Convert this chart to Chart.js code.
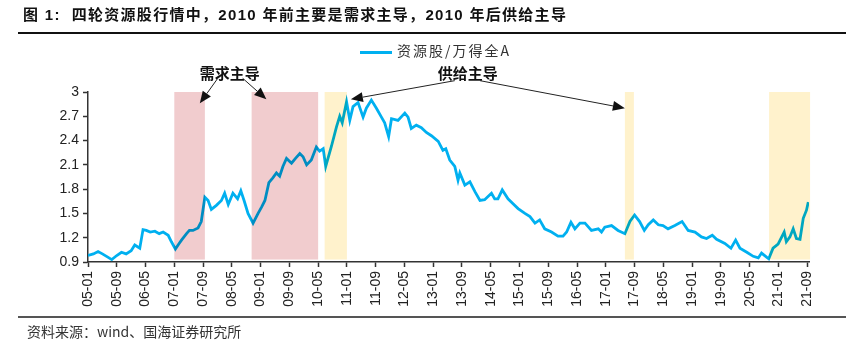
<!DOCTYPE html>
<html>
<head>
<meta charset="utf-8">
<script src="https://cdn.jsdelivr.net/npm/chart.js@4.4.1/dist/chart.umd.min.js"></script>
<style>
	body { margin: 0; background: #fff; }
	#wrap { position: relative; width: 850px; height: 348px; overflow: hidden; }
	#wrap canvas { position: absolute; left: 0; top: 0; }
	.title { position: absolute; left: 23px; top: 3px; font: bold 15px 'Liberation Sans', 'Noto Sans CJK SC', sans-serif; letter-spacing: 1.3px; color: #111; white-space: nowrap; }
	.ruleTop { position: absolute; left: 18px; width: 828px; top: 32px; height: 2px; background: #111; }
	.ruleBottom { position: absolute; left: 18px; width: 828px; top: 316px; height: 2px; background: #555; }
	.source { position: absolute; left: 27px; top: 321px; font: 14px 'Noto Sans CJK SC', sans-serif; color: #333; white-space: nowrap; }
	.legend { position: absolute; left: 360px; top: 40px; font: 14px 'Noto Sans CJK SC', sans-serif; color: #333; letter-spacing: 2px; white-space: nowrap; }
	.legend i { display: inline-block; width: 32px; height: 3px; background: #00B0F0; vertical-align: middle; margin-right: 5px; }
</style>
</head>
<body>
<div id="wrap">
	<canvas id="chart"></canvas>
	<div class="title">图 1:&nbsp; 四轮资源股行情中，2010 年前主要是需求主导，2010 年后供给主导</div>
	<div class="ruleTop"></div>
	<div class="legend"><i></i>资源股/万得全A</div>
	<div class="ruleBottom"></div>
	<div class="source">资料来源：wind、国海证券研究所</div>
</div>
<script>
// months counted from 2005-01 (= 0), ratio of resource stocks to Wind All A
const months = [
	0, 1.5, 2.8, 4, 5.5, 6.6, 8, 9.3, 10.6, 12, 13, 14.4, 15.3, 16.2, 17.3, 18.6, 19.8, 20.9, 22.3, 23.2,
	24.3, 25.2, 26, 27.4, 28.2, 29.2, 30.6, 31.5, 32.5, 33.4, 34.3, 35.7, 37.1, 38, 39, 40.3, 41.6, 42.5, 43.4, 44.5,
	45.9, 47.3, 48.3, 49.2, 50.3, 51.4, 52.4, 53.3, 54.2, 55.2, 56.6, 57.7, 58.9, 59.8, 60.8, 62.1, 63.5, 64.4, 65.4, 66.1,
	67.7, 69.1, 70, 70.7, 71.9, 72.8, 73.7, 75.1, 76.5, 77.4, 78.8, 80.2, 81.6, 82.5, 83.6, 84.4, 86.2, 88.1, 89, 89.9,
	91.3, 92.7, 94.1, 95.5, 97.4, 98.7, 99.5, 100.6, 102, 102.9, 103.4, 104.8, 106.2, 107.6, 109, 110.3, 112.2, 113.1, 114, 115.2,
	116.8, 118.2, 119.6, 121.5, 122.9, 124.3, 125.6, 127, 128.9, 130.7, 132.1, 133.1, 134.3, 135.4, 136.8, 138.2, 140, 141.9, 142.8, 143.7,
	145.6, 147.4, 149.3, 150.7, 152, 153.4, 154.7, 155.8, 157.2, 158.6, 159.9, 161.3, 163.2, 165.2, 166.9, 168.8, 170.6, 172, 173.6, 174.8,
	177.1, 178.8, 180.1, 181.3, 183.2, 185, 186.4, 187.3, 188.7, 189.3, 190.5, 191.9, 193.6, 194.2, 195.2, 196.1, 197, 198, 198.9, 199.8, 200.3
]
const ratio = [
	0.98, 1.00, 1.03, 1.00, 0.96, 0.93, 0.98, 1.02, 1.00, 1.04, 1.11, 1.07, 1.30, 1.29, 1.27, 1.28, 1.25, 1.27, 1.23, 1.15,
	1.06, 1.12, 1.17, 1.25, 1.29, 1.29, 1.32, 1.40, 1.70, 1.66, 1.55, 1.60, 1.66, 1.75, 1.61, 1.75, 1.68, 1.78, 1.66, 1.50,
	1.38, 1.50, 1.58, 1.66, 1.88, 1.94, 2.00, 1.96, 2.08, 2.18, 2.12, 2.18, 2.24, 2.20, 2.10, 2.16, 2.32, 2.27, 2.30, 2.08,
	2.33, 2.57, 2.70, 2.62, 2.88, 2.65, 2.82, 2.87, 2.69, 2.80, 2.90, 2.80, 2.69, 2.62, 2.45, 2.67, 2.65, 2.74, 2.69, 2.55,
	2.59, 2.56, 2.50, 2.46, 2.39, 2.28, 2.30, 2.16, 2.08, 1.91, 2.00, 1.85, 1.89, 1.77, 1.66, 1.67, 1.75, 1.68, 1.68, 1.79,
	1.68, 1.62, 1.56, 1.50, 1.46, 1.38, 1.42, 1.31, 1.27, 1.22, 1.22, 1.27, 1.39, 1.31, 1.38, 1.38, 1.29, 1.31, 1.27, 1.33,
	1.35, 1.29, 1.25, 1.40, 1.48, 1.40, 1.29, 1.36, 1.42, 1.36, 1.35, 1.31, 1.35, 1.40, 1.29, 1.27, 1.21, 1.19, 1.23, 1.18,
	1.13, 1.07, 1.17, 1.07, 1.02, 0.97, 0.95, 1.01, 0.96, 0.94, 1.07, 1.12, 1.27, 1.15, 1.21, 1.31, 1.19, 1.18, 1.44, 1.54, 1.64
]

const xTickLabels = ['05-01', '05-09', '06-05', '07-01', '07-09', '08-05', '09-01', '09-09', '10-05', '11-01', '11-09', '12-05', '13-01',
	'13-09', '14-05', '15-01', '15-09', '16-05', '17-01', '17-09', '18-05', '19-01', '19-09', '20-05', '21-01', '21-09']
const xTickValues = xTickLabels.map((l, i) => i * 8)
const yTickValues = [0.9, 1.2, 1.5, 1.8, 2.1, 2.4, 2.7, 3]
const yTickLabels = ['0.9', '1.2', '1.5', '1.8', '2.1', '2.4', '2.7', '3']

// shaded periods, in months from 2005-01
const demandPeriods = [[24, 32.5], [45.5, 64]]
const supplyPeriods = [[65.8, 72], [149.3, 151.8], [189.4, 200.8]]
const shadeRange = [0.93, 3]

// labels and arrows, in data coordinates
const notes = [
	{ text: '需求主导', at: [39.4, 3.235], arrows: [[[36.1, 3.17], [31.1, 2.86]], [[43, 3.17], [49.6, 2.91]]] },
	{ text: '供给主导', at: [105.6, 3.235], arrows: [[[102, 3.14], [73.1, 2.91]], [[109, 3.14], [149.3, 2.80]]] },
]

const shadePlugin = {
	id: 'shade',
	afterDatasetsDraw(chart) {
		const { ctx, scales: { x, y } } = chart
		const top = y.getPixelForValue(shadeRange[1])
		const bottom = y.getPixelForValue(shadeRange[0])
		ctx.save()
		// multiply so the line shows through darker, like the original
		ctx.globalCompositeOperation = 'multiply'
		const fill = (periods, color) => periods.forEach(([a, b]) => {
			const x0 = x.getPixelForValue(a)
			const x1 = x.getPixelForValue(b)
			ctx.fillStyle = color
			ctx.fillRect(x0, top, x1 - x0, bottom - top)
		})
		fill(demandPeriods, 'rgb(241,204,206)')
		fill(supplyPeriods, 'rgb(255,242,204)')
		ctx.restore()
	},
	afterDraw(chart) {
		const { ctx, scales: { x, y } } = chart
		const px = p => [x.getPixelForValue(p[0]), y.getPixelForValue(p[1])]
		ctx.save()
		ctx.strokeStyle = '#222'
		ctx.fillStyle = '#111'
		ctx.lineWidth = 1
		notes.forEach(n => {
			const [tx, ty] = px(n.at)
			ctx.font = 'bold 15px "Noto Sans CJK SC"'
			ctx.textAlign = 'center'
			ctx.textBaseline = 'middle'
			ctx.fillText(n.text, tx, ty)
			n.arrows.forEach(([from, to]) => {
				const [x0, y0] = px(from)
				const [x1, y1] = px(to)
				const ang = Math.atan2(y1 - y0, x1 - x0)
				const len = 12, half = 5
				const bx = x1 - len * Math.cos(ang)
				const by = y1 - len * Math.sin(ang)
				ctx.beginPath()
				ctx.moveTo(x0, y0)
				ctx.lineTo(bx, by)
				ctx.stroke()
				ctx.beginPath()
				ctx.moveTo(x1, y1)
				ctx.lineTo(bx + half * Math.sin(ang), by - half * Math.cos(ang))
				ctx.lineTo(bx - half * Math.sin(ang), by + half * Math.cos(ang))
				ctx.closePath()
				ctx.fill()
			})
		})
		ctx.restore()
	}
}

new Chart(document.getElementById('chart'), {
	type: 'line',
	data: {
		datasets: [{
			label: '资源股/万得全A',
			data: months.map((m, i) => ({ x: m, y: ratio[i] })),
			borderColor: '#00B0F0',
			borderWidth: 2.8,
			pointRadius: 0,
			tension: 0,
		}],
	},
	options: {
		responsive: true,
		maintainAspectRatio: false,
		animation: false,
		layout: { padding: { left: 0, right: 41, top: 92, bottom: 36 } },
		plugins: { legend: { display: false }, tooltip: { enabled: false } },
		scales: {
			x: {
				type: 'linear',
				min: 0,
				max: 200.5,
				afterBuildTicks: s => { s.ticks = xTickValues.map(v => ({ value: v })) },
				afterFit: s => { s.height = 50 },
				ticks: {
					autoSkip: false,
					minRotation: 90,
					maxRotation: 90,
					padding: 4,
					color: '#222',
					font: { family: 'Liberation Sans', size: 14 },
					callback: (v, i) => xTickLabels[i],
				},
				grid: { drawOnChartArea: false, tickLength: 5, tickColor: '#333', tickWidth: 1.5 },
				border: { color: '#333', width: 1.5 },
			},
			y: {
				min: 0.9,
				max: 3,
				afterBuildTicks: s => { s.ticks = yTickValues.map(v => ({ value: v })) },
				afterFit: s => { s.width = 88 },
				ticks: {
					padding: 4,
					color: '#222',
					font: { family: 'Liberation Sans', size: 14 },
					callback: (v, i) => yTickLabels[i],
				},
				grid: { drawOnChartArea: false, tickLength: 5, tickColor: '#333', tickWidth: 1.5 },
				border: { color: '#333', width: 1.5 },
			},
		},
	},
	plugins: [shadePlugin],
})
</script>
</body>
</html>
